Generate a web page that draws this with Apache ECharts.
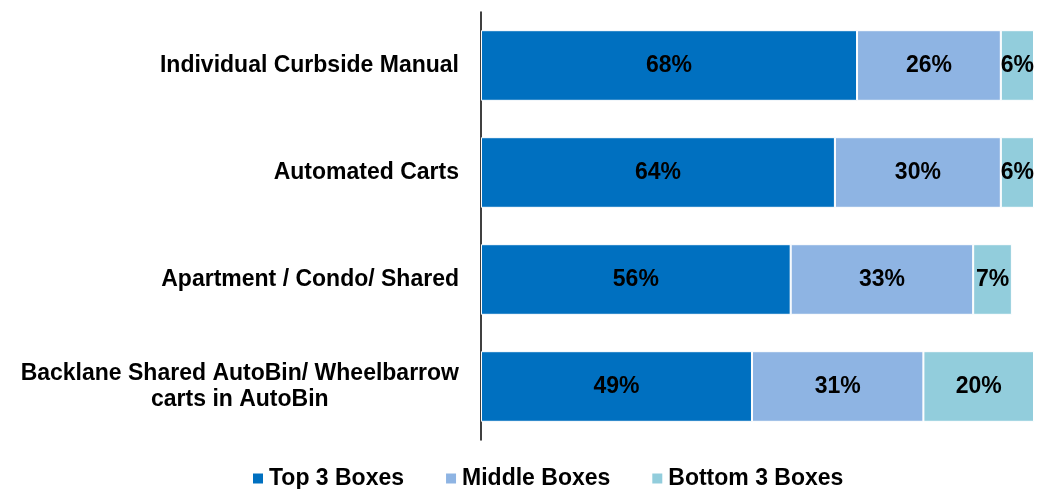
<!DOCTYPE html>
<html>
<head>
<meta charset="utf-8">
<script src="https://cdn.jsdelivr.net/npm/echarts@6/dist/echarts.min.js"></script>
<style>html,body{margin:0;padding:0;background:#fff}#c{width:1039px;height:489px}</style>
</head>
<body>
<div id="c"></div>
<script>
var categories = ["Individual Curbside Manual", "Automated Carts", "Apartment / Condo/ Shared", "Backlane Shared AutoBin/ Wheelbarrow\ncarts in AutoBin"];
var seriesNames = ["Top 3 Boxes", "Middle Boxes", "Bottom 3 Boxes"];
var top3 = [68, 64, 56, 49];
var middle = [26, 30, 33, 31];
var bottom3 = [6, 6, 7, 20];
var colors = ["#0070C0", "#8EB4E3", "#92CDDC"];

var FONT = 'Liberation Sans, Arial, sans-serif';
var chart = echarts.init(document.getElementById('c'));
function mk(name, data, color) {
  return {
    name: name, type: 'bar', stack: 'a', data: data, barWidth: '66%',
    itemStyle: { color: color, borderColor: '#fff', borderWidth: 1 },
    label: { show: true, position: 'inside', color: '#000', fontFamily: FONT, fontWeight: 'bold', fontSize: 23, formatter: '{c}%' }
  };
}
chart.setOption({
  animation: false,
  grid: { left: 481, right: 5, top: 12, bottom: 49 },
  legend: {
    bottom: -6, left: 246, itemWidth: 12, itemHeight: 12, itemGap: 40, icon: 'rect',
    textStyle: { fontFamily: FONT, fontWeight: 'bold', fontSize: 23, color: '#000' },
    data: seriesNames
  },
  xAxis: { type: 'value', min: 0, max: 100, show: false },
  yAxis: {
    type: 'category', inverse: true, data: categories,
    axisLine: { lineStyle: { color: '#000', width: 1.5 } },
    axisTick: { show: false },
    axisLabel: {
      margin: 22, align: 'right', color: '#000',
      fontFamily: FONT, fontWeight: 'bold', fontSize: 23, lineHeight: 26,
      formatter: function (v) { return '{c|' + v.split('\n').join('}\n{c|') + '}'; },
      rich: { c: { align: 'center', fontFamily: FONT, fontWeight: 'bold', fontSize: 23, lineHeight: 26, color: '#000' } }
    }
  },
  series: [mk(seriesNames[0], top3, colors[0]), mk(seriesNames[1], middle, colors[1]), mk(seriesNames[2], bottom3, colors[2])]
});
</script>
</body>
</html>
